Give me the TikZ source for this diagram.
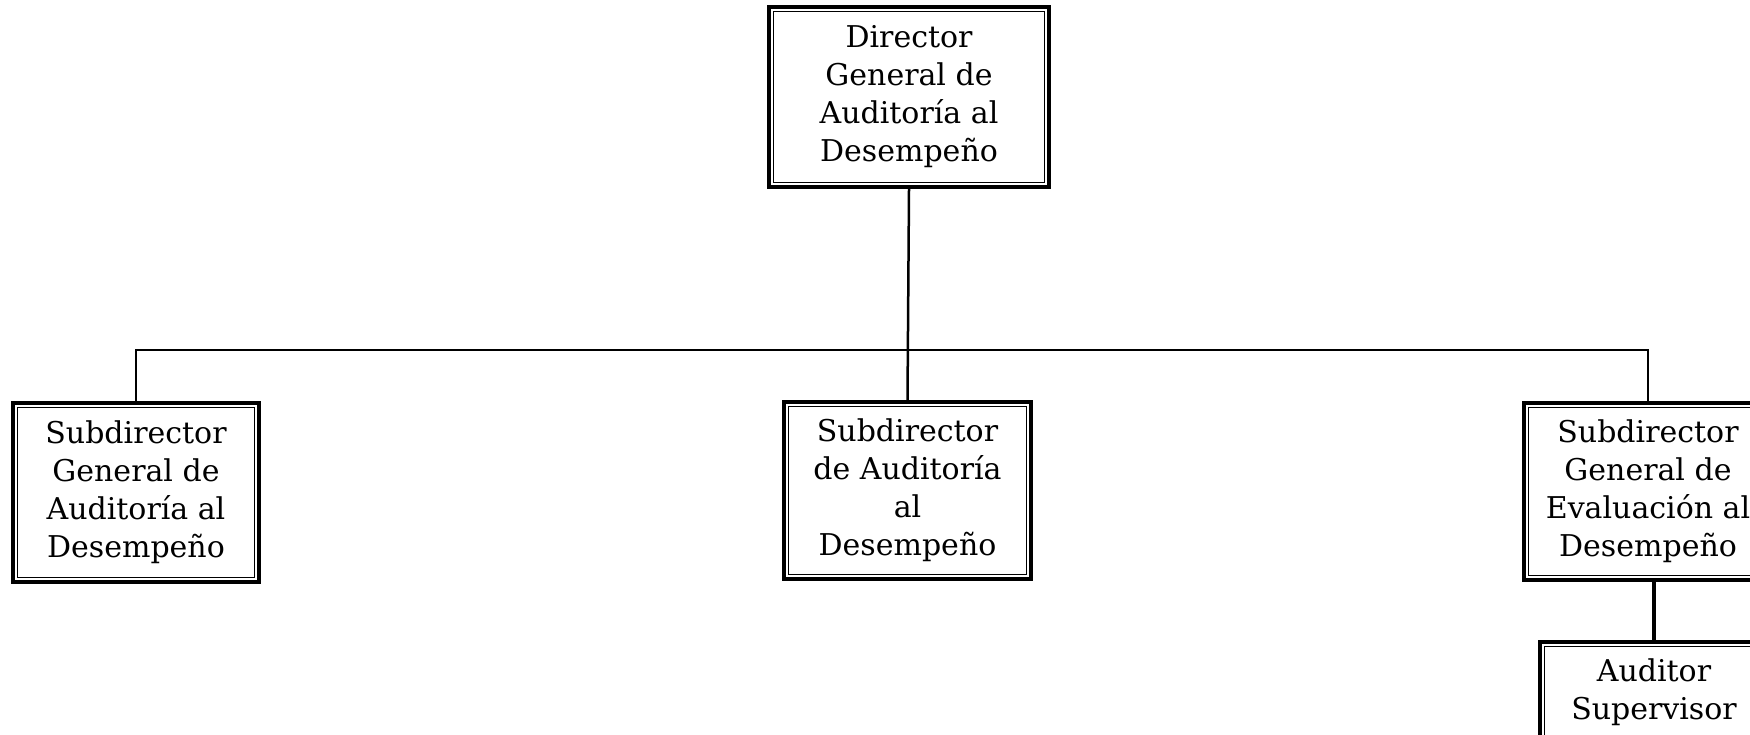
\documentclass[tikz,border=0pt]{standalone}
\usepackage{fontspec}
\setmainfont{DejaVu Serif}
\begin{document}
\begin{tikzpicture}[x=0.5pt,y=-0.5pt,
  orgbox/.style={draw=black, line width=2.2pt, fill=white, align=center, inner sep=0pt,
    font=\fontsize{15}{19}\selectfont},
  link/.style={line width=1.25pt},
  innerline/.style={line width=0.6pt}]
\useasboundingbox[fill=white] (0,0) rectangle (1750,734);
\clip (0,0) rectangle (1750,734);
\node[orgbox, minimum width=140pt, minimum height=90pt] (dg) at (909,97) {Director\\General de\\Auditoría al\\Desempeño};
\node[orgbox, minimum width=123pt, minimum height=89.5pt] (sga) at (136,492.5) {Subdirector\\General de\\Auditoría al\\Desempeño};
\node[orgbox, minimum width=123.5pt, minimum height=88.5pt] (sda) at (907.5,490.5) {Subdirector\\de Auditoría\\al\\Desempeño};
\node[orgbox, minimum width=124pt, minimum height=88.5pt] (sge) at (1648,491.5) {Subdirector\\General de\\Evaluación al\\Desempeño};
\node[orgbox, minimum width=114pt, minimum height=50pt] (as) at (1654,692) {Auditor\\Supervisor};
\foreach \n in {dg,sga,sda,sge,as}{
  \draw[innerline] ([shift={(3.2pt,3.2pt)}]\n.south west) rectangle ([shift={(-3.2pt,-3.2pt)}]\n.north east);
}
\coordinate (bl) at (sga.north |- 0,350);
\coordinate (br) at (sge.north |- 0,350);
\draw[link] (dg.south) -- (sda.north);
\draw[link] (sga.north) -- (bl) -- (br) -- (sge.north);
\draw[line width=1.6pt] (sge.south -| as.north) -- (as.north);
\end{tikzpicture}
\end{document}
